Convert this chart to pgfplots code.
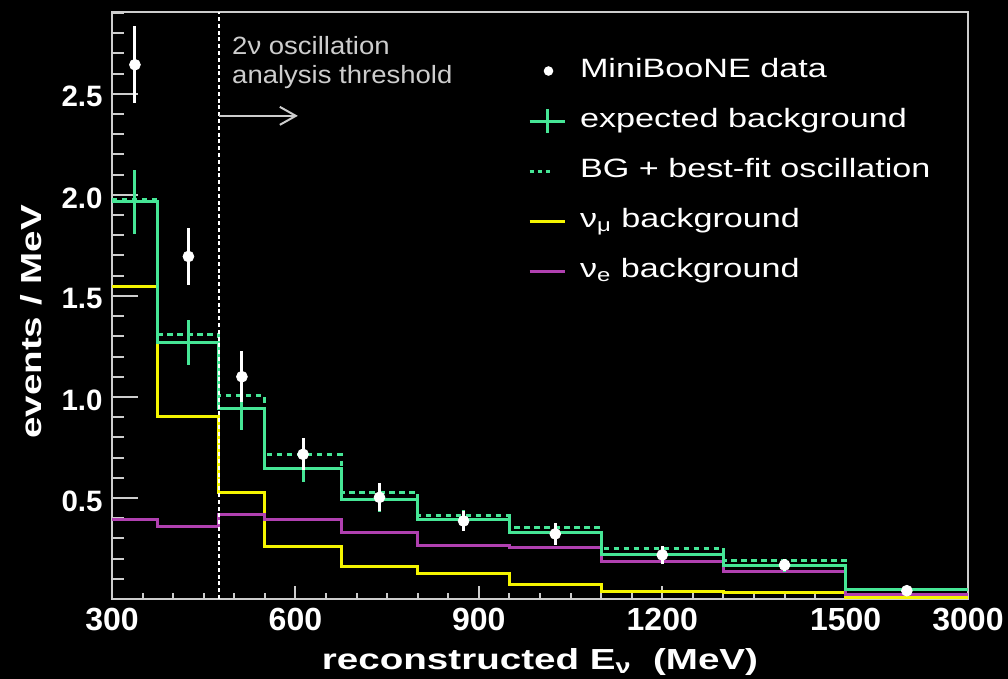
\documentclass[border=0pt]{standalone}
\usepackage{fontspec}
\setmainfont{Liberation Sans}
\newfontfamily\legfont[FakeStretch=1.29]{Liberation Sans}
\newfontfamily\titfont[FakeStretch=1.33]{Liberation Sans}
\newfontfamily\annfont[FakeStretch=1.1]{Liberation Sans}
\usepackage{pgfplots}
\pgfplotsset{compat=1.18}
\usetikzlibrary{arrows.meta}
\definecolor{bgc}{RGB}{70,230,150}
\definecolor{numu}{RGB}{245,245,0}
\definecolor{nue}{RGB}{176,64,176}
\definecolor{framec}{RGB}{205,205,205}
% x axis: linear 300..1500 MeV, last bin 1500..3000 MeV drawn at 1500..1700
\begin{document}
\begin{tikzpicture}
\fill[black] (-56pt,-40pt) rectangle (448pt,299.5pt);
\begin{axis}[
  name=ax,
  scale only axis, width=428pt, height=293.5pt,
  xmin=300, xmax=1700, ymin=0, ymax=2.905,
  axis line style={draw=framec, line width=1pt},
  tick style={draw=framec, line width=1pt},
  tick align=inside, xtick pos=bottom, ytick pos=left,
  major tick length=13pt, minor tick length=6pt,
  major x tick style={/pgfplots/major tick length=6.5pt},
  minor x tick style={/pgfplots/minor tick length=3pt},
  xtick={300,600,900,1200,1500,1700},
  xticklabels={300,600,900,1200,1500,3000},
  minor xtick={350,400,450,500,550,650,700,750,800,850,950,1000,1050,1100,1150,1250,1300,1350,1400,1450},
  ytick={0.5,1,1.5,2,2.5},
  yticklabels={0.5,1.0,1.5,2.0,2.5},
  minor ytick={0.1,0.2,0.3,0.4,0.6,0.7,0.8,0.9,1.1,1.2,1.3,1.4,1.6,1.7,1.8,1.9,2.1,2.2,2.3,2.4,2.6,2.7,2.8,2.9},
  xticklabel style={font=\fontsize{16}{18}\selectfont\bfseries, text=white, anchor=north, inner sep=0pt, yshift=-4.5pt},
  yticklabel style={font=\fontsize{14.75}{17}\selectfont\bfseries, text=white, anchor=east, inner sep=0pt, xshift=-4.5pt, yshift=-1.5pt},
  xlabel={reconstructed E\textsubscript{ν}~~(MeV)},
  ylabel={events / MeV},
  xlabel style={font=\titfont\bfseries\fontsize{14.5}{17}\selectfont, text=white, at={(axis description cs:0.5,-0.1193)}, anchor=base},
  ylabel style={font=\titfont\bfseries\fontsize{14.5}{17}\selectfont, text=white, at={(axis description cs:-0.0946,0.4719)}, anchor=center},
  legend style={at={(axis description cs:0.486,0.9267)}, anchor=north west, draw=none, fill=none, inner sep=0pt, outer sep=0pt, row sep=9pt, column sep=6pt, font=\legfont\fontsize{13.25}{15}\selectfont, text=white, nodes={inner sep=1pt, text height=10pt, text depth=4pt}},
  legend cell align=left,
]
\addlegendimage{legend image code/.code={\path[draw=none] (0pt,0pt) -- (17.5pt,0pt); \fill[white, draw=none] (9.5pt,0pt) circle (2.4pt);}}
\addlegendentry{MiniBooNE data}
\addlegendimage{legend image code/.code={\draw[bgc, line width=1.5pt] (0pt,0pt) -- (17.5pt,0pt); \draw[bgc, line width=1.5pt] (8.75pt,-6pt) -- (8.75pt,6pt);}}
\addlegendentry{expected background}
\addlegendimage{legend image code/.code={\path[draw=none] (0pt,0pt) -- (17.5pt,0pt); \draw[bgc, line width=1.5pt, dash pattern=on 2.25pt off 1.75pt] (0pt,0pt) -- (10pt,0pt);}}
\addlegendentry{BG + best-fit oscillation}
\addlegendimage{legend image code/.code={\draw[numu, line width=1.5pt] (0pt,0pt) -- (17.5pt,0pt);}}
\addlegendentry{ν\textsubscript{μ} background}
\addlegendimage{legend image code/.code={\draw[nue, line width=1.5pt] (0pt,0pt) -- (17.5pt,0pt);}}
\addlegendentry{ν\textsubscript{e} background}

% nu_mu background
\addplot[const plot, numu, line width=1.5pt, forget plot] coordinates {(300,1.546)(375,0.903)(475,0.526)(550,0.259)(675,0.160)(800,0.124)(950,0.074)(1100,0.036)(1300,0.031)(1500,0.008)(1700,0.008)};
% nu_e background
\addplot[const plot, nue, line width=1.5pt, forget plot] coordinates {(300,0.394)(375,0.361)(475,0.416)(550,0.391)(675,0.330)(800,0.267)(950,0.256)(1100,0.185)(1300,0.135)(1500,0.020)(1700,0.020)};
% BG + best fit oscillation
\addplot[const plot, bgc, line width=1.5pt, dash pattern=on 2.75pt off 2.25pt, forget plot] coordinates {(300,1.975)(375,1.307)(475,1.005)(550,0.713)(675,0.526)(800,0.411)(950,0.353)(1100,0.251)(1300,0.190)(1500,0.047)(1700,0.047)};
% expected background
\addplot[const plot, bgc, line width=1.5pt, forget plot] coordinates {(300,1.965)(375,1.269)(475,0.944)(550,0.647)(675,0.494)(800,0.391)(950,0.331)(1100,0.221)(1300,0.165)(1500,0.045)(1700,0.045)};
\addplot[draw=none, mark=none, forget plot, error bars/.cd, y dir=both, y explicit, error mark=none, error bar style={draw=bgc, line width=1.5pt}] coordinates {
(337.5,1.965) +- (0,0.16)
(425,1.269) +- (0,0.11)
(512.5,0.944) +- (0,0.11)
(612.5,0.647) +- (0,0.07)
(737.5,0.494) +- (0,0.065)
(875,0.391) +- (0,0.05)
(1025,0.331) +- (0,0.045)
(1200,0.221) +- (0,0.035)
(1400,0.165) +- (0,0.03)
(1600,0.045) +- (0,0.01)};
% threshold line
\addplot[white, line width=1.1pt, dash pattern=on 2pt off 1.4pt, forget plot] coordinates {(475,0)(475,2.905)};
\draw[framec, line width=1pt, -{Straight Barb[length=8pt,width=9pt]}] (axis cs:475,2.391) -- (axis cs:604,2.391);
\node[anchor=base west, inner sep=0pt, text=framec, font=\annfont\fontsize{12.5}{15}\selectfont] at (axis cs:496,2.693) {2ν oscillation};
\node[anchor=base west, inner sep=0pt, text=framec, font=\annfont\fontsize{12.5}{15}\selectfont] at (axis cs:496,2.553) {analysis threshold};
% MiniBooNE data
\addplot[only marks, mark=*, mark size=2.7pt, white, mark options={fill=white, draw=white}, forget plot, error bars/.cd, y dir=both, y explicit, error mark=none, error bar style={line width=1.5pt, white}] coordinates {
(337.5,2.644) +- (0,0.19)
(425,1.695) +- (0,0.14)
(512.5,1.10) +- (0,0.125)
(612.5,0.716) +- (0,0.08)
(737.5,0.503) +- (0,0.07)
(875,0.386) +- (0,0.05)
(1025,0.322) +- (0,0.055)
(1200,0.218) +- (0,0.043)
(1400,0.168) +- (0,0.03)
(1600,0.041) +- (0,0.015)};
\end{axis}
\pgfresetboundingbox
\path[use as bounding box] (-56pt,-40pt) rectangle (448pt,299.5pt);
\end{tikzpicture}
\end{document}
